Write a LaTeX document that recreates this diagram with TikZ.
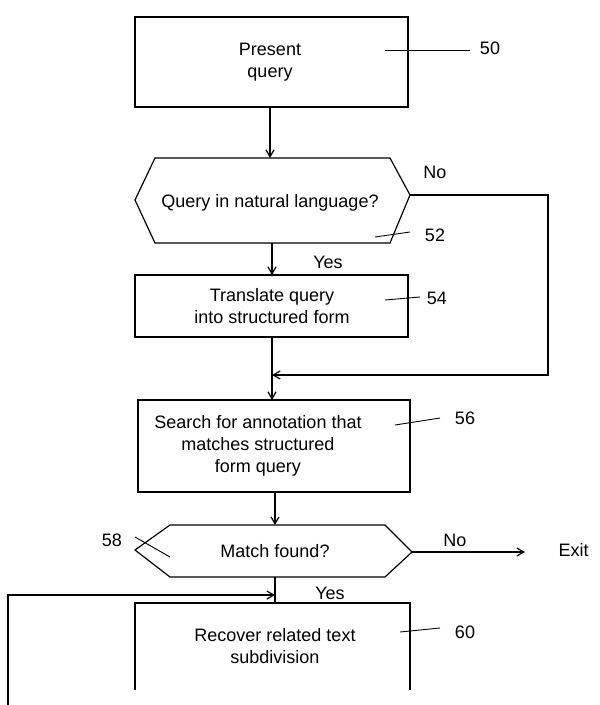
\documentclass[tikz,border=0pt]{standalone}
\usepackage{fontspec}
\setmainfont{Liberation Sans}
\usetikzlibrary{arrows.meta}
\begin{document}
\begin{tikzpicture}[x=1pt,y=-1pt,line width=1.2pt,
  lab/.style={font=\fontsize{18}{22}\selectfont,align=center,inner sep=0pt},
  arr/.style={-{Straight Barb[length=7pt,width=8pt]}},
  lead/.style={line width=0.9pt}]
\useasboundingbox (0,0) rectangle (600,705);
% 50
\draw (135,17) rectangle (408,107);
\node[lab] (t50) at (270,62) {Present\\query};
\coordinate (b50) at (270,107);
\draw[lead] (385,50) -- (470,50);
\node[lab] (n50) at (490,48) {50};
% 52
\draw (155,158) -- (390,158) -- (410,195) -- (390,243) -- (155,243) -- (135,200) -- cycle;
\coordinate (t52) at (270,158);
\node[lab] at (270,203) {Query in natural language?};
\draw[lead] (375,237) -- (410,232);
\node[lab] at (435,235) {52};
\node[lab] at (435,172) {No};
\draw[arr] (b50) -- (t52);
\coordinate (r52) at (410,195);
\coordinate (c1) at (548,195);
\coordinate (c2) at (548,375);
\coordinate (j1) at (272,375);
\draw[arr] (r52) -- (c1) -- (c2) -- (j1);
% 54
\coordinate (b52) at (272,243);
\coordinate (t54) at (272,275);
\draw[arr] (b52) -- (t54);
\node[lab] at (328,262) {Yes};
\draw (135,275) rectangle (408,337);
\node[lab] at (272,306) {Translate query\\into structured form};
\draw[lead] (385,300) -- (420,297);
\node[lab] at (437,298) {54};
\coordinate (b54) at (272,337);
\coordinate (t56) at (272,400);
\draw[arr] (b54) -- (t56);
% 56
\draw (138,400) rectangle (410,492);
\node[lab] at (258,446) {Search for annotation that\\matches structured\\form query};
\draw[lead] (395,425) -- (440,418);
\node[lab] at (465,418) {56};
% 58
\coordinate (b56) at (275,492);
\coordinate (t58) at (275,525);
\draw[arr] (b56) -- (t58);
\draw (170,525) -- (385,525) -- (412,552) -- (385,577) -- (170,577) -- (135,550) -- cycle;
\node[lab] at (275,551) {Match found?};
\node[lab] at (112,540) {58};
\draw[lead] (135,537) -- (170,557);
\node[lab] at (455,540) {No};
\coordinate (r58) at (412,552);
\node[lab,anchor=west] (exit) at (558,550) {Exit};
\draw[arr] (r58) -- (525,552);
% 60
\node[lab] at (330,593) {Yes};
\coordinate (b58) at (275,577);
\coordinate (t60) at (275,603);
\draw (b58) -- (t60);
\coordinate (l0) at (8,705);
\coordinate (l1) at (8,595);
\coordinate (j2) at (275,595);
\draw[arr] (l0) -- (l1) -- (j2);
\draw (135,690) -- (135,603) -- (410,603) -- (410,690);
\node[lab] at (275,646) {Recover related text\\subdivision};
\draw[lead] (400,632) -- (440,628);
\node[lab] at (465,632) {60};
\end{tikzpicture}
\end{document}
